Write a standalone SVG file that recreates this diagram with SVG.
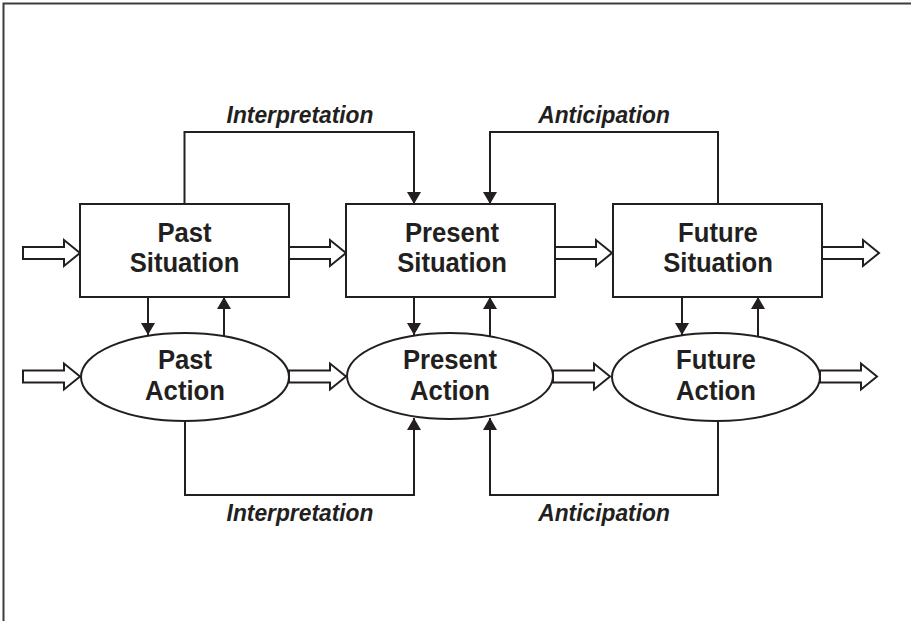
<svg xmlns="http://www.w3.org/2000/svg" width="911" height="621" viewBox="0 0 911 621">
  <style>
    .node { fill: #ffffff; stroke: #231f20; stroke-width: 2; }
    .lbl { font-family: "Liberation Sans", Arial, sans-serif; font-weight: bold; font-size: 28.5px; fill: #231f20; text-anchor: middle; }
    .edge { fill: none; stroke: #231f20; stroke-width: 2; }
    .hollow { fill: #ffffff; stroke: #231f20; stroke-width: 2; stroke-linejoin: miter; }
    .elbl { font-family: "Liberation Sans", Arial, sans-serif; font-weight: bold; font-style: italic; font-size: 24px; fill: #231f20; text-anchor: middle; }
  </style>
  <defs>
    <marker id="ah" viewBox="0 0 12 14" refX="12" refY="7" markerWidth="12" markerHeight="14" markerUnits="userSpaceOnUse" orient="auto">
      <path d="M0,0 L12,7 L0,14 Z" fill="#231f20"/>
    </marker>
    <path id="hol" d="M0,-6 L41,-6 L41,-13 L57,0 L41,13 L41,6 L0,6 Z"/>
  </defs>
  <rect width="911" height="621" fill="#ffffff"/>
  <path d="M3.5,621 L3.5,3.5 L911,3.5" fill="none" stroke="#3c3c3c" stroke-width="2"/>

  <g id="connectors">
    <use href="#hol" class="hollow" transform="translate(23,253)"/>
    <use href="#hol" class="hollow" transform="translate(289,253)"/>
    <use href="#hol" class="hollow" transform="translate(555,253)"/>
    <use href="#hol" class="hollow" transform="translate(822,253)"/>
    <use href="#hol" class="hollow" transform="translate(23,376.5)"/>
    <use href="#hol" class="hollow" transform="translate(289,376.5)"/>
    <use href="#hol" class="hollow" transform="translate(553,376.5)"/>
    <use href="#hol" class="hollow" transform="translate(820,376.5)"/>
    <path class="edge" d="M148,297 L148,335" marker-end="url(#ah)"/>
    <path class="edge" d="M224,336 L224,297" marker-end="url(#ah)"/>
    <path class="edge" d="M414,297 L414,335" marker-end="url(#ah)"/>
    <path class="edge" d="M490,336 L490,297" marker-end="url(#ah)"/>
    <path class="edge" d="M682,297 L682,335" marker-end="url(#ah)"/>
    <path class="edge" d="M758,336 L758,297" marker-end="url(#ah)"/>
    <path class="edge" d="M184.5,204 L184.5,132 L414,132 L414,204" marker-end="url(#ah)"/>
    <path class="edge" d="M718,204 L718,132 L490,132 L490,204" marker-end="url(#ah)"/>
    <path class="edge" d="M185,421 L185,495 L414,495 L414,418" marker-end="url(#ah)"/>
    <path class="edge" d="M718,421 L718,495 L490,495 L490,418" marker-end="url(#ah)"/>
    <g transform="translate(300 0) scale(0.95 1)">
      <text class="elbl" x="0" y="123">Interpretation</text>
      <text class="elbl" x="0" y="521">Interpretation</text>
    </g>
    <g transform="translate(604 0) scale(0.95 1)">
      <text class="elbl" x="0" y="123">Anticipation</text>
      <text class="elbl" x="0" y="521">Anticipation</text>
    </g>
  </g>

  <g id="past-situation">
    <rect class="node" x="80" y="204" width="209" height="93"/>
    <g transform="translate(184.5 0) scale(0.9 1)">
      <text class="lbl" x="0" y="242">Past</text>
      <text class="lbl" x="0" y="272">Situation</text>
    </g>
  </g>
  <g id="present-situation">
    <rect class="node" x="346" y="204" width="209" height="93"/>
    <g transform="translate(452 0) scale(0.9 1)">
      <text class="lbl" x="0" y="242">Present</text>
      <text class="lbl" x="0" y="272">Situation</text>
    </g>
  </g>
  <g id="future-situation">
    <rect class="node" x="613" y="204" width="209" height="93"/>
    <g transform="translate(718 0) scale(0.9 1)">
      <text class="lbl" x="0" y="242">Future</text>
      <text class="lbl" x="0" y="272">Situation</text>
    </g>
  </g>

  <g id="past-action">
    <ellipse class="node" cx="185" cy="377" rx="104" ry="44"/>
    <g transform="translate(185 0) scale(0.9 1)">
      <text class="lbl" x="0" y="369">Past</text>
      <text class="lbl" x="0" y="400">Action</text>
    </g>
  </g>
  <g id="present-action">
    <ellipse class="node" cx="450" cy="376" rx="103" ry="43"/>
    <g transform="translate(450 0) scale(0.9 1)">
      <text class="lbl" x="0" y="369">Present</text>
      <text class="lbl" x="0" y="400">Action</text>
    </g>
  </g>
  <g id="future-action">
    <ellipse class="node" cx="716" cy="377" rx="104" ry="44"/>
    <g transform="translate(716 0) scale(0.9 1)">
      <text class="lbl" x="0" y="369">Future</text>
      <text class="lbl" x="0" y="400">Action</text>
    </g>
  </g>
</svg>
